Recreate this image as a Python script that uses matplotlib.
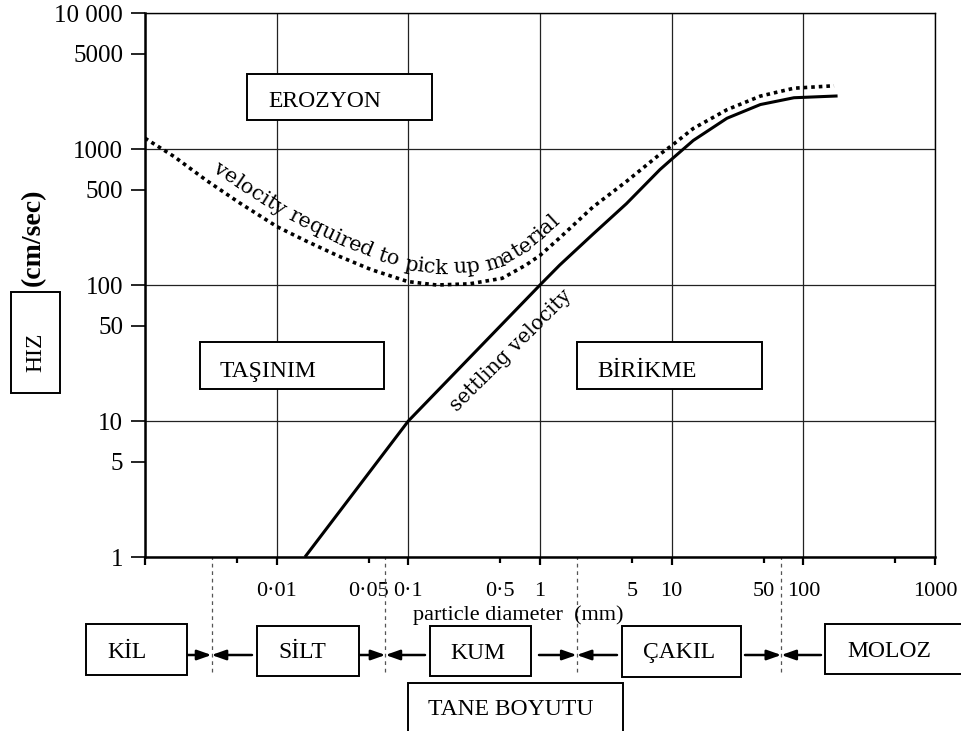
import numpy as np
import matplotlib
matplotlib.use("Agg")
import matplotlib.pyplot as plt
from matplotlib.patches import Rectangle
from matplotlib.ticker import FixedLocator, FixedFormatter
from matplotlib.transforms import IdentityTransform

plt.rcParams['font.family'] = ['Liberation Serif', 'DejaVu Serif']

W, H = 962, 731

# settling velocity curve (solid), mm vs cm/sec
settle_d = [0.0164, 0.1, 1.0, 1.41, 2.52, 4.53, 8.15, 10, 14.6, 26.3, 47.2, 84.9, 182]
settle_v = [1.0, 10, 100, 140, 236, 396, 706, 841, 1156, 1683, 2123, 2382, 2455]

# velocity required to pick up material (dotted)
pickup_d = [0.001, 0.00166, 0.00294, 0.00522, 0.0101, 0.0165, 0.0292, 0.052,
            0.099, 0.164, 0.291, 0.516, 0.78, 1.0, 1.41, 2.52, 4.53, 8.15,
            10, 14.6, 26.3, 47.2, 84.9, 171]
pickup_v = [1200, 881, 586, 402, 268, 212, 164, 130,
            106, 100, 102, 112, 140, 165, 222, 374, 577, 916,
            1059, 1416, 1945, 2449, 2799, 2917]

x_major = [0.001, 0.01, 0.1, 1, 10, 100, 1000]
x_major_labels = ['', '0·01', '0·1', '1', '10', '100', '1000']
x_minor = [0.005, 0.05, 0.5, 5, 50, 500]
x_minor_labels = ['', '0·05', '0·5', '5', '50', '']
y_major = [1, 10, 100, 1000, 10000]
y_major_labels = ['1', '10', '100', '1000', '10 000']
y_minor = [5, 50, 500, 5000]
y_minor_labels = ['5', '50', '500', '5000']

grain_limits = [0.0032, 0.067, 1.9, 68]


def fx(x):
    return x / W


def fy(y):
    return 1 - y / H


fig = plt.figure(figsize=(W / 100, H / 100), dpi=100)
ax = fig.add_axes([fx(145), fy(557), (935 - 145) / W, (557 - 13) / H])
ax.set_xscale('log')
ax.set_yscale('log')
ax.set_xlim(0.001, 1000)
ax.set_ylim(1, 10000)

ax.plot(settle_d, settle_v, color='black', lw=2.2, solid_capstyle='butt',
        solid_joinstyle='round')
ax.plot(pickup_d, pickup_v, color='black', lw=2.6, linestyle=(0, (1, 1.1)))

ax.xaxis.set_major_locator(FixedLocator(x_major))
ax.xaxis.set_major_formatter(FixedFormatter(x_major_labels))
ax.xaxis.set_minor_locator(FixedLocator(x_minor))
ax.xaxis.set_minor_formatter(FixedFormatter(x_minor_labels))
ax.yaxis.set_major_locator(FixedLocator(y_major))
ax.yaxis.set_major_formatter(FixedFormatter(y_major_labels))
ax.yaxis.set_minor_locator(FixedLocator(y_minor))
ax.yaxis.set_minor_formatter(FixedFormatter(y_minor_labels))

ax.tick_params(axis='x', which='major', direction='out', length=5.8, width=1.6,
               pad=12, labelsize=16)
ax.tick_params(axis='x', which='minor', direction='out', length=4.3, width=1.6,
               pad=13.5, labelsize=16)
ax.tick_params(axis='y', which='both', direction='out', length=10, width=1.2,
               pad=5.8, labelsize=18)
ax.grid(which='major', color='#222222', lw=0.9)
for side in ['left', 'bottom']:
    ax.spines[side].set_linewidth(1.8)
for side in ['top', 'right']:
    ax.spines[side].set_linewidth(1.0)

# grain size boundaries below the axis
for lim in grain_limits:
    ax.axvline(lim, ymin=-0.211, ymax=0, clip_on=False, color='#555555',
               lw=0.9, linestyle=(0, (3, 3)))


def box(x0, y0, x1, y1, label, tx, ty, rot=0):
    fig.add_artist(Rectangle((fx(x0), fy(y1)), (x1 - x0) / W, (y1 - y0) / H,
                             transform=fig.transFigure, facecolor='white',
                             edgecolor='black', lw=1.4, zorder=5))
    if rot:
        fig.text(fx(tx), fy(ty), label, rotation=rot, ha='center', va='center',
                 fontsize=17, zorder=6)
    else:
        fig.text(fx(tx), fy(ty), label, ha='left', va='baseline',
                 fontsize=17, zorder=6)


box(247, 74, 432, 120, 'EROZYON', 268, 107)
box(200, 342, 384, 389, 'TAŞINIM', 220, 377)
box(577, 342, 762, 389, 'BİRİKME', 597, 377)
box(11, 292, 60, 393, 'HIZ', 36, 352, rot=90)
box(86, 624, 187, 675, 'KİL', 107, 658)
box(257, 626, 359, 676, 'SİLT', 278, 658)
box(430, 626, 531, 676, 'KUM', 450, 659)
box(622, 626, 741, 677, 'ÇAKIL', 643, 658)
box(825, 624, 970, 674, 'MOLOZ', 847, 657)
box(408, 683, 623, 740, 'TANE BOYUTU', 428, 715)

fig.text(fx(33), fy(237), '(cm/sec)', rotation=90, ha='center', va='center',
         fontsize=20, fontweight='bold')
fig.text(fx(413), fy(615), 'particle diameter  (mm)', ha='left', va='center',
         fontsize=16)

# arrows pointing at each boundary
arrow_y = fy(655)
arrow_tails = [(187, 252), (359, 425), (539, 617), (745, 821)]
for lim, (left, right) in zip(grain_limits, arrow_tails):
    for tail in (left, right):
        ax.annotate('', xy=(lim, arrow_y), xytext=(fx(tail), arrow_y),
                    xycoords=('data', 'figure fraction'),
                    textcoords='figure fraction', annotation_clip=False,
                    arrowprops=dict(arrowstyle='-|>,head_length=0.85,head_width=0.3',
                                    color='black', lw=1.8, shrinkA=0, shrinkB=0))

curve_font = ['DejaVu Serif']
ax.text(0.6, 33, 'settling velocity', rotation=45, rotation_mode='anchor',
        ha='center', va='center', fontsize=14.5, family=curve_font)


def curved_label(text, xs, ys, start_x, offset, size):
    fig.canvas.draw()
    r = fig.canvas.get_renderer()
    pts = ax.transData.transform(np.column_stack([xs, ys]))
    s = np.concatenate([[0], np.cumsum(np.hypot(*np.diff(pts, axis=0).T))])
    ss = np.arange(0, s[-1], 1.0)
    px = np.interp(ss, s, pts[:, 0])
    py = np.interp(ss, s, pts[:, 1])
    kernel = np.ones(21) / 21
    dx = np.convolve(np.gradient(px), kernel, mode='same')
    dy = np.convolve(np.gradient(py), kernel, mode='same')
    nrm = np.hypot(dx, dy)
    ox = px - offset * dy / nrm
    oy = py + offset * dx / nrm
    ang = np.degrees(np.arctan2(dy, dx))
    so = np.concatenate([[0], np.cumsum(np.hypot(np.diff(ox), np.diff(oy)))])
    s0 = so[np.argmin(np.abs(ox - start_x))]
    for i, ch in enumerate(text):
        if ch == ' ':
            continue
        t = fig.text(0, 0, text[:i + 1], fontsize=size, family=curve_font)
        end = t.get_window_extent(r).width
        t.remove()
        t = fig.text(0, 0, ch, fontsize=size, family=curve_font)
        cw = t.get_window_extent(r).width
        t.remove()
        pos = s0 + end - cw / 2
        fig.text(np.interp(pos, so, ox), np.interp(pos, so, oy), ch,
                 rotation=np.interp(pos, so, ang), rotation_mode='anchor',
                 ha='center', va='baseline', fontsize=size, family=curve_font,
                 transform=IdentityTransform())


curved_label('velocity required to pick up material', pickup_d, pickup_v,
             212, 11, 15)

fig.savefig('out.png', dpi=100)
